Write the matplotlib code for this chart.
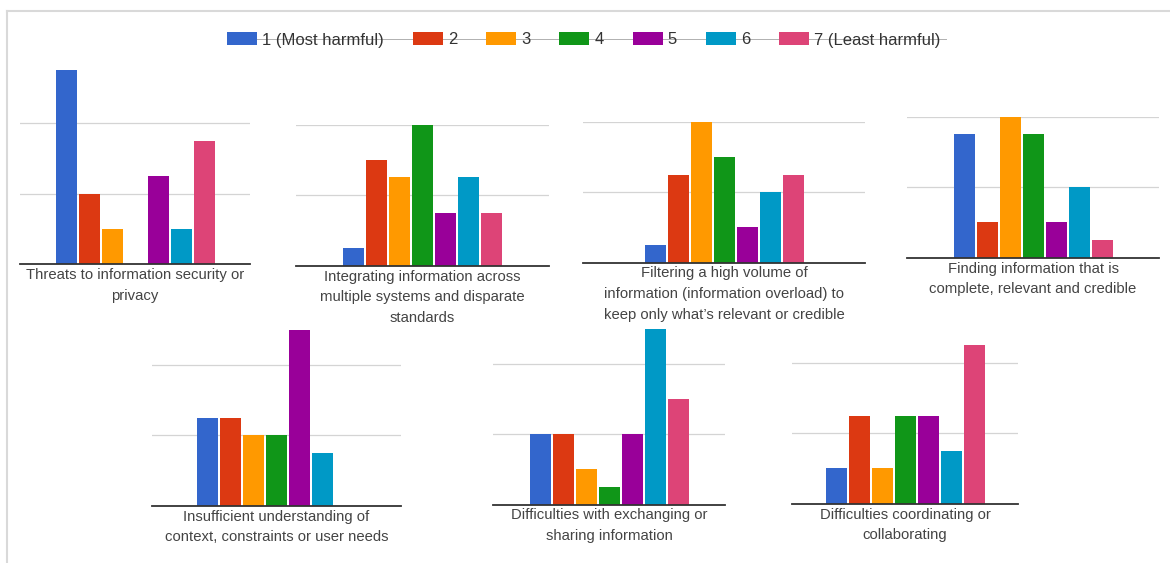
"""Grouped bar panels: harm ratings for each information challenge."""

import matplotlib

matplotlib.use("Agg")
import matplotlib.pyplot as plt
import numpy as np
from matplotlib.lines import Line2D
from matplotlib.patches import Rectangle

plt.rcParams["font.family"] = ["Liberation Sans", "DejaVu Sans"]

W, H, DPI = 1170, 563, 100

ratings = ["1 (Most harmful)", "2", "3", "4", "5", "6", "7 (Least harmful)"]
colors = ["#3366cc", "#dc3912", "#ff9900", "#109618", "#990099", "#0099c6", "#dd4477"]

titles = [
    "Threats to information security or\nprivacy",
    "Integrating information across\nmultiple systems and disparate\nstandards",
    "Filtering a high volume of\ninformation (information overload) to\nkeep only what\u2019s relevant or credible",
    "Finding information that is\ncomplete, relevant and credible",
    "Insufficient understanding of\ncontext, constraints or user needs",
    "Difficulties with exchanging or\nsharing information",
    "Difficulties coordinating or\ncollaborating",
]

# responses per rating (1..7) for each challenge
security = [11, 4, 2, 0, 5, 2, 7]
integrating = [1, 6, 5, 8, 3, 5, 3]
filtering = [1, 5, 8, 6, 2, 4, 5]
finding = [7, 2, 8, 7, 2, 4, 1]
understanding = [5, 5, 4, 4, 10, 3, 0]
exchanging = [4, 4, 2, 1, 4, 10, 6]
coordinating = [2, 5, 2, 5, 5, 3, 9]
counts = [security, integrating, filtering, finding, understanding, exchanging, coordinating]

gridlines = [4, 8]

# panel boxes in pixels: left, right, baseline y
boxes = [
    (20, 250, 264),
    (296, 549, 265.5),
    (583, 865, 262.5),
    (907, 1159, 257.5),
    (152, 401, 505.5),
    (493, 725, 504.5),
    (792, 1018, 503.5),
]
PX_PER_UNIT = 17.6
BAR_STEP = 23
BAR_W = 21

fig = plt.figure(figsize=(W / DPI, H / DPI), dpi=DPI)

for title, vals, (left, right, base) in zip(titles, counts, boxes):
    ymax = max(vals)
    h_px = ymax * PX_PER_UNIT
    ax = fig.add_axes([left / W, 1 - base / H, (right - left) / W, h_px / H])
    half = (right - left) / 2 / BAR_STEP
    x = np.arange(len(vals)) - (len(vals) - 1) / 2
    for g in gridlines:
        if g <= ymax:
            ax.axhline(g, color="#d4d4d4", lw=0.9, zorder=0)
    ax.bar(x, vals, width=BAR_W / BAR_STEP, color=colors, zorder=2)
    ax.axhline(0, color="#333333", lw=1.3, zorder=3, clip_on=False)
    ax.set_xlim(-half, half)
    ax.set_ylim(0, ymax)
    ax.axis("off")
    fig.text((left + right) / 2 / W, 1 - (base + 4) / H, title, ha="center", va="top",
             fontsize=10.7, color="#444444", linespacing=1.62)

# frame edges
fig.add_artist(Line2D([7 / W, 7 / W], [0, 1 - 11 / H], color="#d9d9d9", lw=1.5))
fig.add_artist(Line2D([7 / W, 1], [1 - 11 / H, 1 - 11 / H], color="#d9d9d9", lw=1.5))

# legend row
renderer = fig.canvas.get_renderer()
ly = 38.5
xpos = 227
start = xpos
for label, color in zip(ratings, colors):
    fig.add_artist(Rectangle((xpos / W, 1 - (ly + 6.5) / H), 30 / W, 13 / H,
                             transform=fig.transFigure, facecolor=color,
                             edgecolor="none", zorder=3))
    t = fig.text((xpos + 35) / W, 1 - ly / H, label, ha="left", va="center_baseline",
                 fontsize=12, color="#333333", zorder=3)
    tw = t.get_window_extent(renderer).width
    xpos = xpos + 35 + tw + 29
fig.add_artist(Line2D([start / W, (xpos - 24) / W], [1 - ly / H, 1 - ly / H],
                      color="#b0b0b0", lw=0.7, zorder=1))

fig.savefig("out.png", dpi=DPI)
